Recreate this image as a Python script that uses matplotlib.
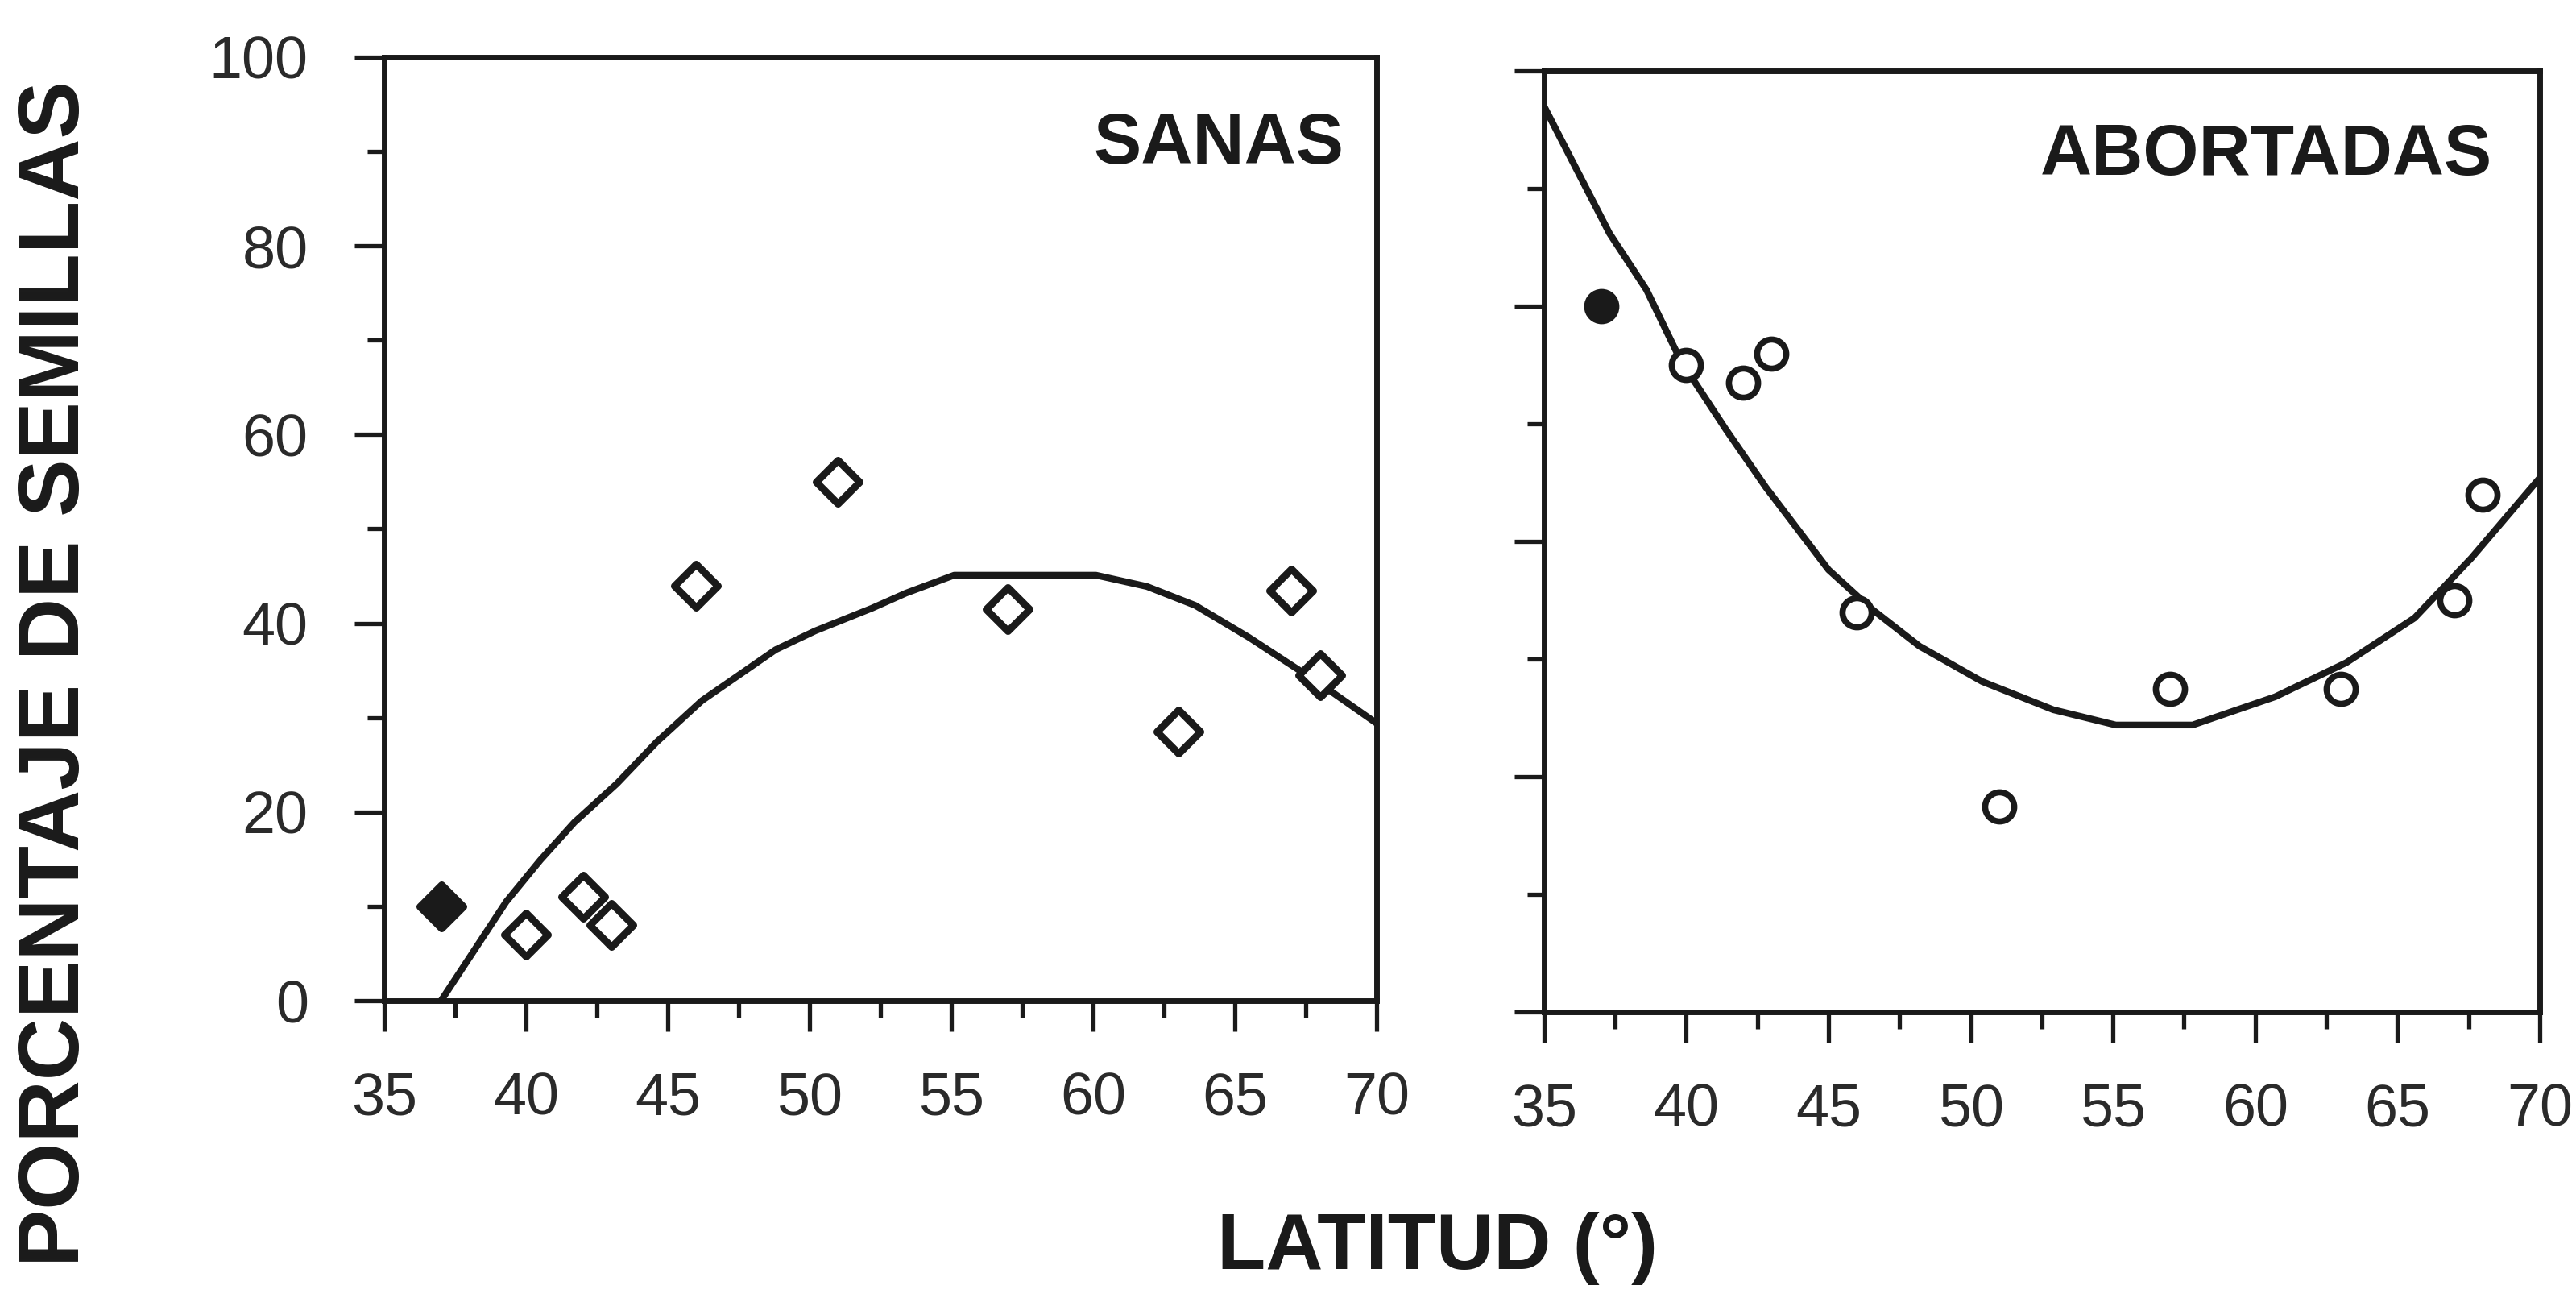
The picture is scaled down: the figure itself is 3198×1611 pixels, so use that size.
import matplotlib
matplotlib.use("Agg")
import matplotlib.pyplot as plt
from matplotlib.markers import MarkerStyle
from matplotlib.ticker import MultipleLocator

plt.rcParams['font.family'] = ['Liberation Sans', 'DejaVu Sans']

# latitude of each population and seed percentages
latitud = [37, 40, 42, 43, 46, 51, 57, 63, 67, 68]
sanas = [10, 7, 11, 8, 44, 55, 41.5, 28.5, 43.5, 34.5]
abortadas = [60, 55, 53.5, 56, 34, 17.5, 27.5, 27.5, 35, 44]

# fitted curves, read as vertices of the drawn polyline
sanas_fit_x = [37, 39.3, 40.5, 41.7, 43.2, 44.6, 46.2, 47.5, 48.8, 50.2, 52.2,
               53.4, 55.1, 60.1, 61.9, 63.6, 65.5, 68.1, 70]
sanas_fit_y = [0, 10.5, 14.9, 18.9, 23, 27.4, 31.8, 34.5, 37.2, 39.2, 41.6,
               43.2, 45.1, 45.1, 43.9, 41.9, 38.5, 33.4, 29.4]
abort_fit_x = [35, 37.3, 38.6, 39.8, 41.4, 42.8, 45.0, 46.5, 48.2, 50.4, 52.9,
               55.1, 57.8, 60.7, 63.2, 65.6, 67.6, 70]
abort_fit_y = [77, 66.2, 61.4, 55.4, 49.5, 44.6, 37.6, 34.3, 31.1, 28.1, 25.7,
               24.4, 24.4, 26.8, 29.7, 33.5, 38.6, 45.4]

xticks = [35, 40, 45, 50, 55, 60, 65, 70]
ink = '#1a1a1a'
diamond = MarkerStyle('D', joinstyle='round')

fig = plt.figure(figsize=(31.98, 16.11), dpi=100)
ax1 = fig.add_axes([0.1492, 0.229, 0.3852, 0.727])
ax2 = fig.add_axes([0.5994, 0.2203, 0.3865, 0.725])

# left: healthy seeds
ax1.plot(sanas_fit_x, sanas_fit_y, color=ink, lw=6, solid_joinstyle='round')
ax1.plot(latitud[1:], sanas[1:], ls='none', marker=diamond, ms=27, mfc='white',
         mec=ink, mew=6.5, clip_on=False)
ax1.plot(latitud[:1], sanas[:1], ls='none', marker=diamond, ms=27, mfc=ink,
         mec=ink, mew=6.5, clip_on=False)
ax1.set_ylim(0, 100)
ax1.yaxis.set_major_locator(MultipleLocator(20))
ax1.yaxis.set_minor_locator(MultipleLocator(10))
ax1.text(0.967, 0.907, 'SANAS', transform=ax1.transAxes, ha='right', va='center',
         fontsize=64, fontweight='bold', color=ink)

# right: aborted seeds
ax2.plot(abort_fit_x, abort_fit_y, color=ink, lw=6, solid_joinstyle='round')
ax2.plot(latitud[1:], abortadas[1:], 'o', ms=26, mfc='white', mec=ink, mew=5.5, clip_on=False)
ax2.plot(latitud[:1], abortadas[:1], 'o', ms=26, mfc=ink, mec=ink, mew=5.5, clip_on=False)
ax2.set_ylim(0, 80)
ax2.yaxis.set_major_locator(MultipleLocator(20))
ax2.yaxis.set_minor_locator(MultipleLocator(10))
ax2.set_yticklabels([])
ax2.text(0.952, 0.909, 'ABORTADAS', transform=ax2.transAxes, ha='right', va='center',
         fontsize=64, fontweight='bold', color=ink)

for ax in (ax1, ax2):
    ax.set_xlim(35, 70)
    ax.set_xticks(xticks)
    ax.xaxis.set_minor_locator(MultipleLocator(2.5))
    for sp in ax.spines.values():
        sp.set_linewidth(5)
        sp.set_color(ink)
    ax.tick_params(which='major', length=27, width=3.8, color=ink, direction='out',
                   labelsize=53, labelcolor='#2a2a2a')
    ax.tick_params(which='minor', length=15, width=3.8, color=ink, direction='out')
    ax.tick_params(axis='y', which='major', pad=41)
    ax.tick_params(axis='x', which='major', pad=36)

fig.text(0.022, 0.481, 'PORCENTAJE DE SEMILLAS', rotation=90, ha='center', va='center',
         fontsize=77, fontweight='bold', color=ink)
fig.text(0.558, 0.038, 'LATITUD (°)', ha='center', va='center',
         fontsize=71, fontweight='bold', color=ink)

fig.savefig('out.png', dpi=100, facecolor='white')
